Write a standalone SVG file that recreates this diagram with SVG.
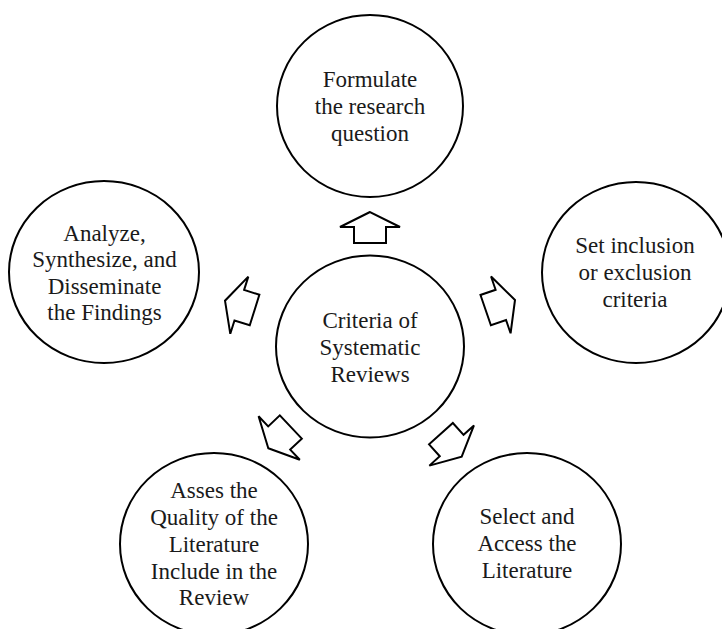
<svg xmlns="http://www.w3.org/2000/svg" xmlns:xlink="http://www.w3.org/1999/xlink" width="722" height="629" viewBox="0 0 722 629">
<style>
.node{fill:#fff;stroke:#000;stroke-width:2}
.lbl{font-family:"Liberation Serif","Times New Roman",serif;font-size:23px;fill:#1a1a1a;text-anchor:middle}
.arr{fill:#fff;stroke:#000;stroke-width:2;stroke-linejoin:miter}
</style>
<defs>
<polygon id="blockArrow" points="0,0 -30,15 -16,15 -16,31 16,31 16,15 30,15"/>
</defs>
<rect width="722" height="629" fill="#fff"/>
<g id="connectors">
<use xlink:href="#blockArrow" class="arr" transform="translate(370,212)"/>
<use xlink:href="#blockArrow" class="arr" transform="translate(225,300.7) rotate(-72.5)"/>
<use xlink:href="#blockArrow" class="arr" transform="translate(515,300) rotate(71)"/>
<use xlink:href="#blockArrow" class="arr" transform="translate(268.3,448.3) rotate(-133.4)"/>
<use xlink:href="#blockArrow" class="arr" transform="translate(461.7,456.7) rotate(138)"/>
</g>
<g id="node-center">
<ellipse class="node" cx="370" cy="346.5" rx="94" ry="91"/>
<text class="lbl" x="370" y="328">Criteria of</text>
<text class="lbl" x="370" y="355">Systematic</text>
<text class="lbl" x="370" y="382">Reviews</text>
</g>
<g id="node-formulate">
<ellipse class="node" cx="370" cy="106" rx="93" ry="91"/>
<text class="lbl" x="370" y="87">Formulate</text>
<text class="lbl" x="370" y="114">the research</text>
<text class="lbl" x="370" y="141">question</text>
</g>
<g id="node-set">
<ellipse class="node" cx="636" cy="272.5" rx="94" ry="90.5"/>
<text class="lbl" x="635" y="253">Set inclusion</text>
<text class="lbl" x="635" y="280">or exclusion</text>
<text class="lbl" x="635" y="307">criteria</text>
</g>
<g id="node-select">
<ellipse class="node" cx="527" cy="544" rx="94" ry="91"/>
<text class="lbl" x="527" y="524">Select and</text>
<text class="lbl" x="527" y="551">Access the</text>
<text class="lbl" x="527" y="578">Literature</text>
</g>
<g id="node-asses">
<ellipse class="node" cx="214" cy="544" rx="94" ry="91"/>
<text class="lbl" x="214" y="498">Asses the</text>
<text class="lbl" x="214" y="525">Quality of the</text>
<text class="lbl" x="214" y="552">Literature</text>
<text class="lbl" x="214" y="579">Include in the</text>
<text class="lbl" x="214" y="605">Review</text>
</g>
<g id="node-analyze">
<ellipse class="node" cx="104" cy="272" rx="95" ry="91"/>
<text class="lbl" x="104.5" y="241">Analyze,</text>
<text class="lbl" x="104.5" y="267">Synthesize, and</text>
<text class="lbl" x="104.5" y="294">Disseminate</text>
<text class="lbl" x="104.5" y="320">the Findings</text>
</g>
</svg>
